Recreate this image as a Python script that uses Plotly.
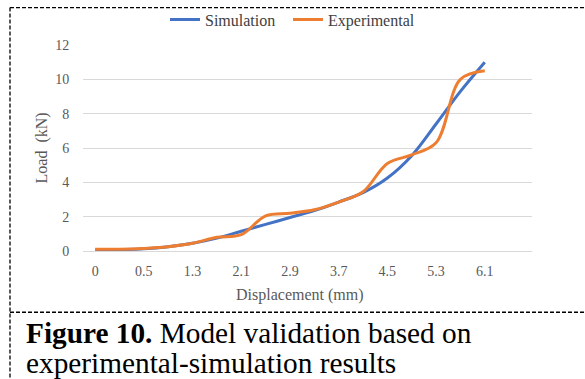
import plotly.graph_objects as go

# ---- data ----
displacement = ["0", "0.1", "0.5", "0.9", "1.3", "1.7", "2.1", "2.5", "2.9",
                "3.3", "3.7", "4.1", "4.5", "4.9", "5.3", "5.7", "6.1"]
tick_labels = ["0", "0.5", "1.3", "2.1", "2.9", "3.7", "4.5", "5.3", "6.1"]
simulation = [0.05, 0.08, 0.13, 0.25, 0.45, 0.75, 1.15, 1.55, 1.95,
              2.35, 2.85, 3.4, 4.25, 5.55, 7.4, 9.3, 11.0]
experimental = [0.1, 0.1, 0.15, 0.25, 0.45, 0.8, 0.95, 2.05, 2.2,
                2.4, 2.85, 3.45, 5.1, 5.6, 6.3, 10.0, 10.5]

W, H = 585, 379
L, R = 83, 532          # plot area in px
T, B = 44.5, 250.7


def px(x):
    return (x - L) / (R - L)


def py(y):
    return (B - y) / (B - T)


SERIF = "Liberation Serif, Times New Roman, serif"

fig = go.Figure()
fig.add_trace(go.Scatter(x=displacement, y=simulation, name="Simulation",
                         mode="lines", legend="legend",
                         line=dict(color="#4472C4", width=3,
                                   shape="spline", smoothing=1)))
fig.add_trace(go.Scatter(x=displacement, y=experimental, name="Experimental",
                         mode="lines", legend="legend2",
                         line=dict(color="#ED7D31", width=3,
                                   shape="spline", smoothing=1)))

legend_common = dict(orientation="h", xanchor="left", y=py(19),
                     yanchor="middle",
                     font=dict(family=SERIF, size=16, color="#404040"),
                     itemwidth=30, bgcolor="rgba(0,0,0,0)")

fig.update_layout(
    width=W, height=H,
    margin=dict(l=L, r=W - R, t=T, b=H - B, pad=0, autoexpand=False),
    paper_bgcolor="white", plot_bgcolor="white",
    font=dict(family=SERIF, size=14, color="#595959"),
    showlegend=True,
    legend=dict(x=px(165), **legend_common),
    legend2=dict(x=px(288), **legend_common),
    xaxis=dict(type="category", categoryorder="array",
               categoryarray=displacement,
               tickmode="array", tickvals=displacement[::2],
               ticktext=tick_labels,
               range=[-0.5, 17.94], showgrid=False, zeroline=False,
               showline=True, linecolor="#d9d9d9", linewidth=1,
               ticks="outside", ticklen=7, tickcolor="rgba(0,0,0,0)",
               tickfont=dict(family=SERIF, size=14, color="#595959")),
    yaxis=dict(range=[0, 12], dtick=2, showgrid=True, gridcolor="#d9d9d9",
               gridwidth=1, zeroline=False, showline=False,
               ticks="outside", ticklen=10, tickcolor="rgba(0,0,0,0)",
               tickfont=dict(family=SERIF, size=14, color="#595959")),
)

annotations = [
    dict(text="Load  (kN)", x=px(42), y=py(148), xref="paper", yref="paper",
         textangle=-90, showarrow=False, xanchor="center", yanchor="middle",
         font=dict(family=SERIF, size=16, color="#595959")),
    dict(text="Displacement (mm)", x=px(300), y=py(295), xref="paper",
         yref="paper", showarrow=False, xanchor="center", yanchor="middle",
         font=dict(family=SERIF, size=16, color="#595959")),
    dict(text="<b>Figure 10.</b> Model validation based on", x=px(24),
         y=py(333), xref="paper", yref="paper", showarrow=False,
         xanchor="left", yanchor="middle",
         font=dict(family=SERIF, size=29.3, color="black")),
    dict(text="experimental-simulation results", x=px(24),
         y=py(363), xref="paper", yref="paper", showarrow=False,
         xanchor="left", yanchor="middle",
         font=dict(family=SERIF, size=29.3, color="black")),
]
fig.update_layout(annotations=annotations)

dash = dict(color="black", width=1.3, dash="4px,2px")
shapes = [
    dict(type="line", xref="paper", yref="paper", x0=px(10), x1=px(585),
         y0=py(7), y1=py(7), line=dash),
    dict(type="line", xref="paper", yref="paper", x0=px(10), x1=px(10),
         y0=py(7), y1=py(379), line=dash),
    dict(type="line", xref="paper", yref="paper", x0=px(10), x1=px(585),
         y0=py(312), y1=py(312), line=dash),
]
fig.update_layout(shapes=shapes)

fig.write_html("out.html",
               config={"displayModeBar": False},
               post_script="document.body.style.margin='0';"
                           "document.body.style.overflow='hidden';")
